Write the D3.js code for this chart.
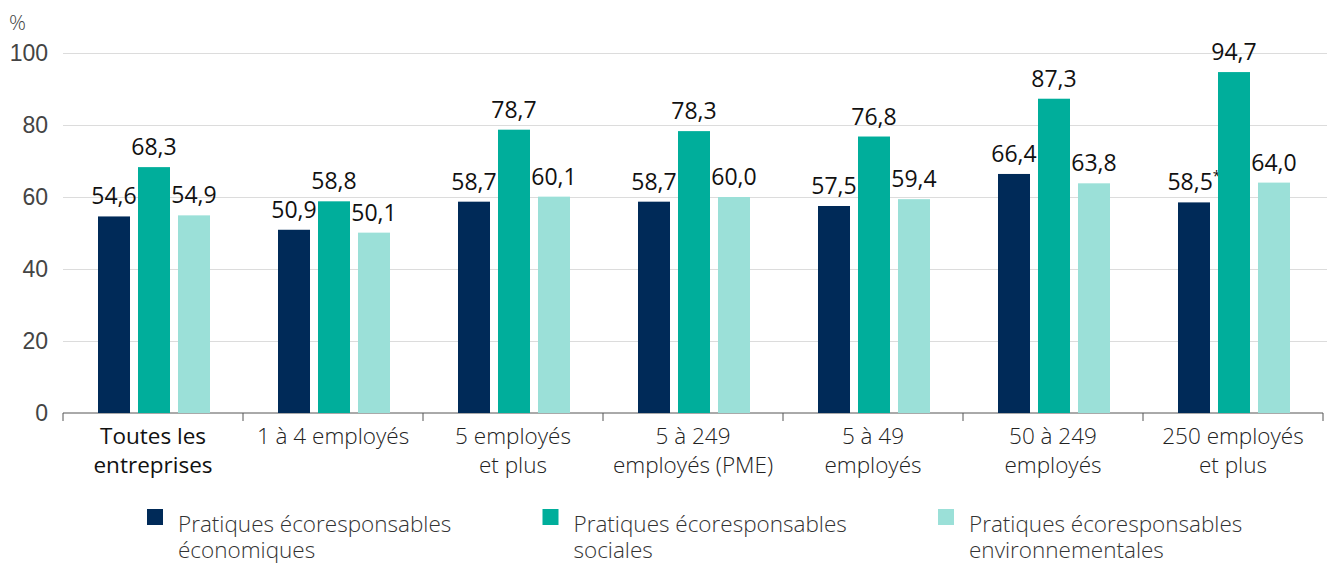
<!DOCTYPE html>
<html>
<head>
<meta charset="utf-8">
<script src="https://cdn.jsdelivr.net/npm/d3@7"></script>
<style>
  body { margin: 0; background: #fff; }
  svg { font-family: "Open Sans", sans-serif; }
  .grid line { stroke: #dcdcdc; }
  .grid .domain { display: none; }
  .y-axis text { fill: #444; font-size: 23px; font-weight: 300; }
  .x-axis .domain, .x-axis line { stroke: #555; }
  .val { fill: #111; font-size: 23px; font-weight: 400; }
  .cat { fill: #222; font-size: 22.5px; font-weight: 300; }
  .leg { fill: #333; font-size: 22.5px; font-weight: 300; }
</style>
</head>
<body>
<svg id="chart" width="1327" height="563"></svg>
<script>
const categories = [
  ["Toutes les", "entreprises"],
  ["1 à 4 employés"],
  ["5 employés", "et plus"],
  ["5 à 249", "employés (PME)"],
  ["5 à 49", "employés"],
  ["50 à 249", "employés"],
  ["250 employés", "et plus"]
]
const economiques = [54.6, 50.9, 58.7, 58.7, 57.5, 66.4, 58.5]
const sociales = [68.3, 58.8, 78.7, 78.3, 76.8, 87.3, 94.7]
const environnementales = [54.9, 50.1, 60.1, 60.0, 59.4, 63.8, 64.0]
const notes = ["", "", "", "", "", "", "*"]
const yTicks = [0, 20, 40, 60, 80, 100]
const seriesNames = [
  ["Pratiques écoresponsables", "économiques"],
  ["Pratiques écoresponsables", "sociales"],
  ["Pratiques écoresponsables", "environnementales"]
]
const colors = ["#002a58", "#00ae9b", "#9be0d8"]

const margin = { top: 53, right: 4, bottom: 150, left: 63 }
const width = 1327 - margin.left - margin.right
const height = 563 - margin.top - margin.bottom

const svg = d3.select("#chart")
const g = svg.append("g")
  .attr("transform", "translate(" + margin.left + "," + margin.top + ")")

const x = d3.scaleBand()
  .domain(d3.range(categories.length))
  .range([0, 180 * categories.length])

const x1 = d3.scaleBand()
  .domain([0, 1, 2])
  .range([35, 147])
  .paddingInner(0.2)

const y = d3.scaleLinear()
  .domain([0, 100])
  .range([height, 0])

// gridlines
g.append("g")
  .attr("class", "grid")
  .call(d3.axisLeft(y).tickValues(yTicks.slice(1)).tickSize(-width - margin.right).tickFormat(""))

g.append("g")
  .attr("class", "y-axis")
  .call(d3.axisLeft(y).tickValues(yTicks).tickSize(0).tickPadding(15))
  .call(a => a.select(".domain").remove())

g.append("text")
  .attr("x", -54)
  .attr("y", -23)
  .attr("fill", "#444")
  .style("font-size", "21px")
  .style("font-weight", 300)
  .text("%")

// x axis line with ticks at band edges
const xa = g.append("g")
  .attr("class", "x-axis")
  .attr("transform", "translate(0," + height + ")")
xa.append("line").attr("x1", 0).attr("x2", width).attr("y1", 0).attr("y2", 0)
  .attr("stroke", "#555")
xa.selectAll(".tk")
  .data(d3.range(categories.length + 1))
  .join("line")
  .attr("x1", i => i < categories.length ? x(i) : x(i - 1) + x.bandwidth())
  .attr("x2", i => i < categories.length ? x(i) : x(i - 1) + x.bandwidth())
  .attr("y1", 0).attr("y2", 8)
  .attr("stroke", "#555")

xa.selectAll(".cat")
  .data(categories)
  .join("text")
  .attr("class", "cat")
  .attr("text-anchor", "middle")
  .attr("x", (d, i) => x(i) + x.bandwidth() / 2)
  .style("font-weight", (d, i) => i === 0 ? 400 : 300)
  .style("fill", (d, i) => i === 0 ? "#111" : "#222")
  .selectAll("tspan")
  .data(d => d)
  .join("tspan")
  .attr("x", function () { return d3.select(this.parentNode).attr("x") })
  .attr("y", (d, j) => 31 + j * 29)
  .text(d => d)

const series = [economiques, sociales, environnementales]

series.forEach((vals, s) => {
  const grp = g.append("g")
  grp.selectAll("rect")
    .data(vals)
    .join("rect")
    .attr("x", (d, i) => x(i) + x1(s))
    .attr("width", x1.bandwidth())
    .attr("y", d => y(d))
    .attr("height", d => height - y(d))
    .attr("fill", colors[s])

  const lbl = grp.selectAll("text")
    .data(vals)
    .join("text")
    .attr("class", "val")
    .attr("text-anchor", "middle")
    .attr("x", (d, i) => x(i) + x1(s) + x1.bandwidth() / 2)
    .attr("y", d => y(d) - 12)
  lbl.append("tspan").text(d => d3.format(".1f")(d).replace(".", ","))
  lbl.filter((d, i) => s === 0 && notes[i])
    .append("tspan")
    .attr("dy", -9)
    .style("font-size", "14px")
    .text((d, i) => "*")
})

// legend
const leg = svg.append("g").attr("transform", "translate(147,509)")
seriesNames.forEach((name, i) => {
  const item = leg.append("g").attr("transform", "translate(" + i * 395.5 + ",0)")
  item.append("rect").attr("width", 16).attr("height", 16).attr("fill", colors[i])
  item.append("text")
    .attr("class", "leg")
    .selectAll("tspan")
    .data(name)
    .join("tspan")
    .attr("x", 31)
    .attr("y", (d, j) => 23 + j * 26)
    .text(d => d)
})
</script>
</body>
</html>
